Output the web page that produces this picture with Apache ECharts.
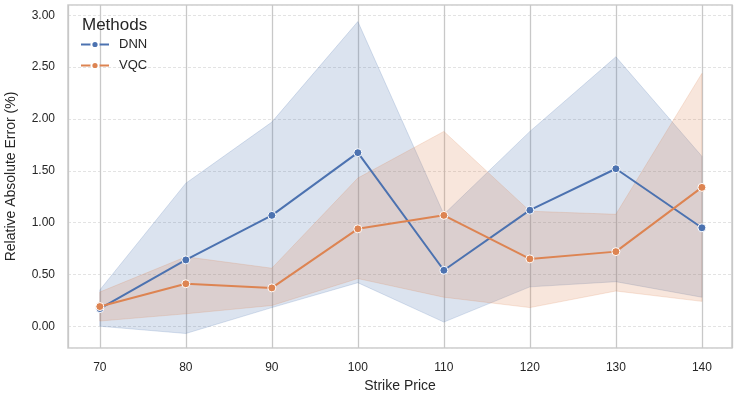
<!DOCTYPE html>
<html><head><meta charset="utf-8">
<script src="https://cdn.jsdelivr.net/npm/echarts@6/dist/echarts.min.js"></script>
<style>html,body{margin:0;padding:0;background:#fff}#c{width:735px;height:396px}</style>
</head><body><div id="c"></div>
<script>
const strikes = [70, 80, 90, 100, 110, 120, 130, 140];
const dnnMean = [0.17, 0.64, 1.07, 1.675, 0.54, 1.12, 1.52, 0.95];
const dnnLow  = [0.00, -0.07, 0.18, 0.42, 0.04, 0.38, 0.43, 0.28];
const dnnHigh = [0.35, 1.38, 1.97, 2.94, 1.08, 1.88, 2.60, 1.64];
const vqcMean = [0.19, 0.41, 0.37, 0.94, 1.07, 0.65, 0.72, 1.34];
const vqcLow  = [0.05, 0.12, 0.20, 0.46, 0.28, 0.18, 0.34, 0.24];
const vqcHigh = [0.33, 0.67, 0.56, 1.43, 1.88, 1.11, 1.08, 2.44];
const seriesNames = ['DNN', 'VQC'];

const BLUE = '#4c72b0', ORANGE = '#dd8452';
const FONT = "'Liberation Sans', Arial, sans-serif";
const TXT = '#262626';

function band(name, lo, hi, fill) {
  return {
    type: 'custom', name: name, silent: true, z: 1,
    data: strikes.map((x, i) => [x, lo[i], hi[i]]),
    encode: { x: 0, y: [1, 2] },
    renderItem: function (params, api) {
      if (params.dataIndex !== 0) return null;
      const pts = [];
      for (let i = 0; i < strikes.length; i++) pts.push(api.coord([strikes[i], hi[i]]));
      for (let i = strikes.length - 1; i >= 0; i--) pts.push(api.coord([strikes[i], lo[i]]));
      return { type: 'polygon', shape: { points: pts }, style: { fill: fill, stroke: fill, lineWidth: 1 } };
    }
  };
}
function line(name, mean, color) {
  return {
    type: 'line', name: name, z: 3,
    data: strikes.map((x, i) => [x, mean[i]]),
    symbol: 'circle', symbolSize: 8,
    itemStyle: { color: color, borderColor: '#ffffff', borderWidth: 1 },
    lineStyle: { color: color, width: 2 },
    emphasis: { disabled: true }
  };
}

const chart = echarts.init(document.getElementById('c'), null, { renderer: 'canvas' });
chart.setOption({
  animation: false,
  backgroundColor: '#ffffff',
  textStyle: { fontFamily: FONT },
  title: { text: 'Methods', left: 82, top: 17, padding: 0, textStyle: { fontFamily: FONT, fontSize: 17, fontWeight: 'normal', color: TXT } },
  legend: {
    data: seriesNames, orient: 'vertical', left: 80, top: 38, padding: 0,
    itemWidth: 28, itemHeight: 9, itemGap: 8,
    textStyle: { fontFamily: FONT, fontSize: 13, color: TXT, padding: [0, 0, 0, 5] }
  },
  grid: { left: 68, right: 3, top: 5, bottom: 48, outerBoundsMode: 'none', containLabel: false,
    show: true, borderColor: '#cccccc', borderWidth: 1.5, backgroundColor: 'transparent' },
  xAxis: {
    type: 'value', min: 66.3, max: 143.5, splitNumber: 8,
    name: 'Strike Price', nameLocation: 'middle', nameGap: 29,
    nameTextStyle: { fontFamily: FONT, fontSize: 14, color: TXT },
    axisLine: { show: false }, axisTick: { show: false },
    axisLabel: { showMinLabel: false, showMaxLabel: false, fontFamily: FONT, fontSize: 12, color: TXT, margin: 14 },
    splitLine: { show: true, lineStyle: { color: '#c8c8c8', width: 1.3 } }
  },
  yAxis: {
    type: 'value', min: -0.21, max: 3.1, splitNumber: 7,
    name: 'Relative Absolute Error (%)', nameLocation: 'middle', nameGap: 50,
    nameTextStyle: { fontFamily: FONT, fontSize: 14, color: TXT },
    axisLine: { show: false }, axisTick: { show: false },
    axisLabel: { showMinLabel: false, showMaxLabel: false, fontFamily: FONT, fontSize: 12, color: TXT, margin: 13,
      formatter: v => v.toFixed(2) },
    splitLine: { show: true, lineStyle: { color: '#dcdcdc', width: 0.8, type: [3, 2] } }
  },
  series: [
    band('DNN band', dnnLow, dnnHigh, 'rgba(76,114,176,0.2)'),
    band('VQC band', vqcLow, vqcHigh, 'rgba(221,132,82,0.2)'),
    line('DNN', dnnMean, BLUE),
    line('VQC', vqcMean, ORANGE)
  ]
});
</script></body></html>
